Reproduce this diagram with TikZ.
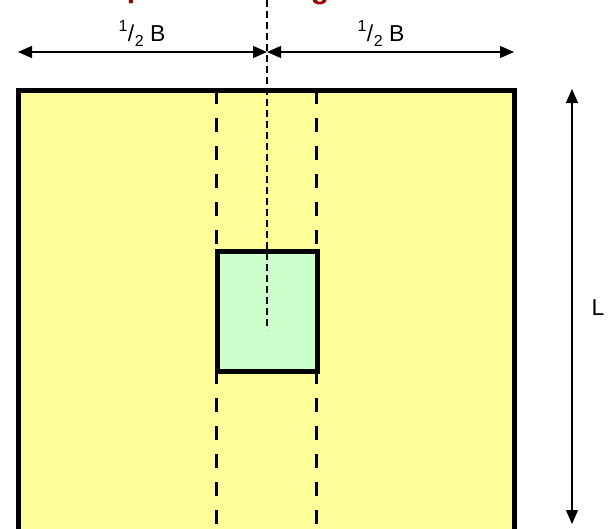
\documentclass[tikz,border=0pt]{standalone}
\usepackage{fontspec}
\setmainfont{Liberation Sans}
\usetikzlibrary{arrows.meta}
\definecolor{footyellow}{HTML}{FFFF99}
\definecolor{colgreen}{HTML}{CCFFCC}
\definecolor{titlered}{HTML}{990000}
\newcommand{\halfB}{\raisebox{0.42em}{\fontsize{16pt}{17pt}\selectfont 1}\kern0.5pt/\kern0.5pt\raisebox{-0.22em}{\fontsize{16pt}{17pt}\selectfont 2}\ B}
\tikzset{
  thickbox/.style={draw=black, line width=5pt},
  critline/.style={draw=black, line width=3.5pt, dash pattern=on 14pt off 14pt},
  axisline/.style={draw=black, line width=1.2pt, dash pattern=on 7pt off 4pt},
  dimarrow/.style={draw=black, line width=1.3pt, {Triangle[length=14pt,width=12pt]}-{Triangle[length=14pt,width=12pt]}},
  dimlabel/.style={font=\fontsize{23pt}{26pt}\selectfont, inner sep=0pt},
  titlefrag/.style={font=\fontsize{30pt}{34pt}\selectfont\bfseries, text=titlered, inner sep=0pt, anchor=base}
}
\begin{document}
\begin{tikzpicture}[x=1pt,y=-1pt]
\useasboundingbox (0,0) rectangle (611,528);
\clip (0,0) rectangle (611,528);
% clipped title fragments
\node[titlefrag] (tp) at (136,-2.5) {p};
\node[titlefrag] (tg) at (320,-1.5) {g};
% footing
\path[fill=footyellow, thickbox] (18,90) rectangle (514,580);
\coordinate (dlt) at (216.5,90);
\coordinate (dlb) at (216.5,540);
\coordinate (drt) at (316.5,90);
\coordinate (drb) at (316.5,540);
\draw[critline] (dlt) -- (dlb);
\draw[critline] (drt) -- (drb);
% column
\node[fill=colgreen, thickbox, minimum width=99.5pt, minimum height=120pt, inner sep=0pt] (col) at (267.25,311) {};
% axis
\coordinate (axtop) at (267,0);
\coordinate (axbot) at (267,330);
\draw[axisline] (axtop) -- (axbot);
% dimensions
\coordinate (bl) at (18,52);
\coordinate (bm) at (267,52);
\coordinate (br) at (514,52);
\draw[dimarrow] (bl) -- (bm);
\draw[dimarrow] (bm) -- (br);
\node[dimlabel, anchor=base] (lb1) at (142,41) {\halfB};
\node[dimlabel, anchor=base] (lb2) at (381,41) {\halfB};
\coordinate (lt) at (572,89);
\coordinate (lbt) at (572,524);
\draw[dimarrow] (lt) -- (lbt);
\node[dimlabel, anchor=base] (ll) at (598,315) {L};
\end{tikzpicture}
\end{document}
